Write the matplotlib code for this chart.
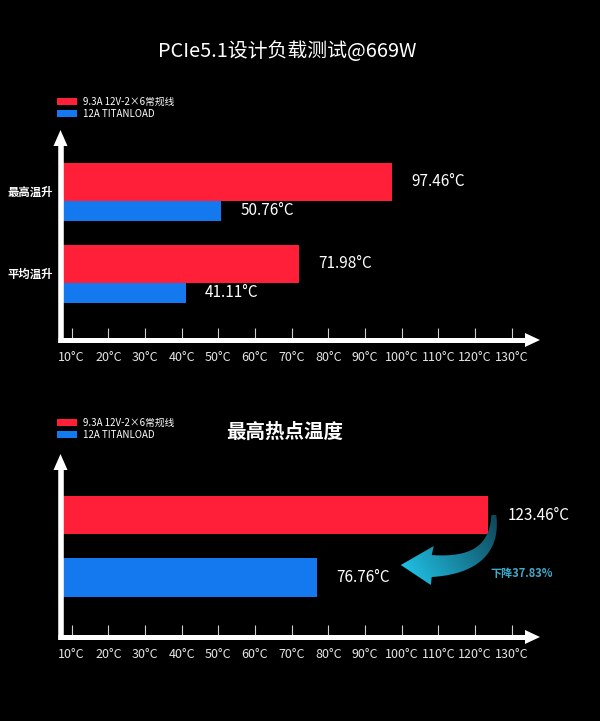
import numpy as np
import matplotlib
matplotlib.use('Agg')
import matplotlib.pyplot as plt
from matplotlib.patches import Polygon

plt.rcParams['font.family'] = ['Noto Sans CJK SC', 'DejaVu Sans']

# ---------------- data ----------------
title_top = 'PCIe5.1设计负载测试@669W'
title_bottom = '最高热点温度'
series_names = ['9.3A 12V-2×6常规线', '12A TITANLOAD']
categories_top = ['最高温升', '平均温升']
red_top = [97.46, 71.98]
blue_top = [50.76, 41.11]
red_bottom = [123.46]
blue_bottom = [76.76]
tick_values = [10, 20, 30, 40, 50, 60, 70, 80, 90, 100, 110, 120, 130]
tick_labels = [f'{t}°C' for t in tick_values]
drop_label = '下降37.83%'

RED = '#FF1F38'
BLUE = '#1479EF'
W, H = 600, 721
XMIN, XMAX = 6.95, 137.7

fig = plt.figure(figsize=(6, 7.21), dpi=100, facecolor='black')


def px_axes(l, t, r, b, **kw):
    return fig.add_axes([l / W, 1 - b / H, (r - l) / W, (b - t) / H], **kw)


def style_axes(ax, ylim):
    ax.set_facecolor('none')
    ax.set_xlim(XMIN, XMAX)
    ax.set_ylim(*ylim)
    for s in ax.spines.values():
        s.set_visible(False)
    ax.set_yticks([])
    ax.set_xticks(tick_values, tick_labels)
    ax.tick_params(axis='x', direction='in', length=8.5, width=0.8,
                   color='#cfcfcf', labelcolor='#e6e6e6', labelsize=9, pad=8)


def value_label(ax, v, y):
    ax.annotate(f'{v:.2f}°C', xy=(v, y), xytext=(14, 0), textcoords='offset points',
                va='center', ha='left', color='white', fontsize=11)


def add_legend(ax, handles, top_px):
    ax.legend(handles, series_names, loc='upper left',
              bbox_to_anchor=(57 / W, 1 - top_px / H), bbox_transform=fig.transFigure,
              frameon=False, fontsize=7, handlelength=2.1, handleheight=0.8,
              labelspacing=0.2, handletextpad=0.6, borderpad=0, borderaxespad=0,
              labelcolor='white')


# ---------------- top chart ----------------
ax1 = px_axes(60.5, 130, 540, 340)
style_axes(ax1, (1.699, -0.862))
RH, BH = 0.463, 0.25
ys = np.arange(len(categories_top))
rb1 = ax1.barh(ys - RH, np.array(red_top) - XMIN, left=XMIN, height=RH, align='edge',
               color=RED, zorder=2)
bb1 = ax1.barh(ys, np.array(blue_top) - XMIN, left=XMIN, height=BH, align='edge',
               color=BLUE, zorder=2)
for k in ys:
    value_label(ax1, red_top[k], k - RH / 2)
    value_label(ax1, blue_top[k], k + BH / 2)
    ax1.text(-0.0626, k - RH + (RH + BH) / 2, categories_top[k],
             transform=ax1.get_yaxis_transform(), ha='center', va='center',
             color='white', fontsize=8.2, fontweight='bold')
add_legend(ax1, [rb1, bb1], 97)

# ---------------- bottom chart ----------------
ax2 = px_axes(60.5, 454, 540, 637)
style_axes(ax2, (1.955, -0.978))
BH2 = 0.614
rb2 = ax2.barh([0], np.array(red_bottom) - XMIN, left=XMIN, height=BH2, color=RED, zorder=2)
bb2 = ax2.barh([1], np.array(blue_bottom) - XMIN, left=XMIN, height=BH2, color=BLUE, zorder=2)
value_label(ax2, red_bottom[0], 0)
value_label(ax2, blue_bottom[0], 1)
add_legend(ax2, [rb2, bb2], 418)

# ---------------- titles ----------------
fig.text(287 / W, 1 - 51.5 / H, title_top, ha='center', va='center', color='white', fontsize=14.3)
fig.text(285 / W, 1 - 432 / H, title_bottom, ha='center', va='center', color='white',
         fontsize=14, fontweight='bold')

# ---------------- overlay (axis arrows, curved arrow) ----------------
ov = fig.add_axes([0, 0, 1, 1], zorder=10)
ov.set_xlim(0, W)
ov.set_ylim(H, 0)
ov.axis('off')
ov.patch.set_alpha(0)


def axis_arrows(x0, ytop, ybot, xright):
    ov.plot([x0, x0], [ybot + 2.5, ytop + 15], color='white', lw=4.0, solid_capstyle='butt')
    ov.add_patch(Polygon([(x0 - 7, ytop + 16), (x0 + 7, ytop + 16), (x0, ytop)],
                         closed=True, color='white', lw=0))
    ov.plot([x0 - 2.5, xright - 14], [ybot, ybot], color='white', lw=3.6, solid_capstyle='butt')
    ov.add_patch(Polygon([(xright - 15, ybot - 7), (xright - 15, ybot + 7), (xright, ybot)],
                         closed=True, color='white', lw=0))


axis_arrows(60.5, 130, 340, 540)
axis_arrows(60.5, 454, 637, 540)

# curved gradient arrow, anchored to the end of the red bottom bar
fig.canvas.draw()
disp = ax2.transData.transform((red_bottom[0], 0))
bar_end_px = disp[0]
dx = bar_end_px - 503
t = np.linspace(0, 1, 80)[:, None]
P0 = np.array([509 + dx, 515]); P1 = np.array([511 + dx, 566]); P2 = np.array([447 + dx, 566])
pts = (1 - t) ** 2 * P0 + 2 * (1 - t) * t * P1 + t ** 2 * P2
der = 2 * (1 - t) * (P1 - P0) + 2 * t * (P2 - P1)
nrm = np.column_stack([der[:, 1], -der[:, 0]])
nrm = nrm / np.linalg.norm(nrm, axis=1)[:, None]
hw = (2.5 + 8.5 * t[:, 0])[:, None]
sideA = pts + nrm * hw
sideB = pts - nrm * hw
if sideA[-1, 1] > sideB[-1, 1]:
    sideA, sideB = sideB, sideA
head = [(449 + dx, 546), (416 + dx, 565), (446 + dx, 585)]
poly_pts = np.vstack([sideA, head, sideB[::-1]])
arrow_patch = Polygon(poly_pts, closed=True, facecolor='none', edgecolor='none')
ov.add_patch(arrow_patch)
gx0, gx1, gy0, gy1 = 405 + dx, 525 + dx, 505, 595
xx, yy = np.meshgrid(np.linspace(gx0, gx1, 200), np.linspace(gy0, gy1, 150))
s = np.clip(((gx1 - xx) / (gx1 - gx0)) * 0.75 + ((yy - gy0) / (gy1 - gy0)) * 0.35, 0, 1)
dark = np.array([0.05, 0.20, 0.26])
bright = np.array([0.13, 0.80, 0.95])
img = dark[None, None, :] * (1 - s[..., None]) + bright[None, None, :] * s[..., None]
im = ov.imshow(img, extent=(gx0, gx1, gy1, gy0), origin='upper', aspect='auto',
               interpolation='bilinear', zorder=5)
im.set_clip_path(arrow_patch)
ov.set_xlim(0, W)
ov.set_ylim(H, 0)
ov.text(bar_end_px + 3, 574, drop_label, color='#3FAACB', fontsize=8, va='center',
        ha='left', fontweight='bold')

fig.savefig('out.png', dpi=100, facecolor='black')
